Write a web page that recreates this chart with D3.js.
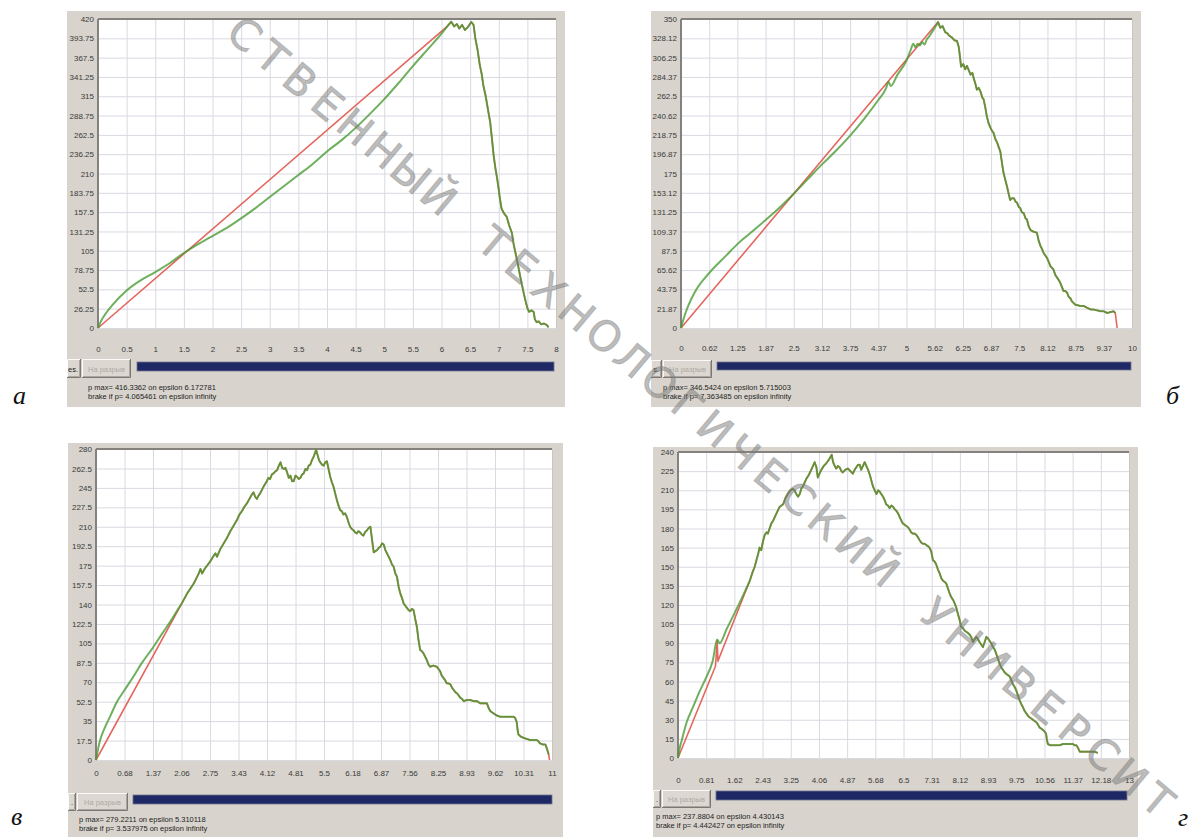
<!DOCTYPE html>
<html>
<head>
<meta charset="utf-8">
<script src="https://cdn.jsdelivr.net/npm/d3@7"></script>
<style>
  body { margin: 0; background: #fff; }
  svg { display: block; }
</style>
</head>
<body>
<svg id="fig" width="1196" height="837"></svg>
<script>
// ---------- tick labels ----------
const xLabelsA = ["0","0.5","1","1.5","2","2.5","3","3.5","4","4.5","5","5.5","6","6.5","7","7.5","8"];
const yLabelsA = ["0","26.25","52.5","78.75","105","131.25","157.5","183.75","210","236.25","262.5","288.75","315","341.25","367.5","393.75","420"];
const xLabelsB = ["0","0.62","1.25","1.87","2.5","3.12","3.75","4.37","5","5.62","6.25","6.87","7.5","8.12","8.75","9.37","10"];
const yLabelsB = ["0","21.87","43.75","65.62","87.5","109.37","131.25","153.12","175","196.87","218.75","240.62","262.5","284.37","306.25","328.12","350"];
const xLabelsC = ["0","0.68","1.37","2.06","2.75","3.43","4.12","4.81","5.5","6.18","6.87","7.56","8.25","8.93","9.62","10.31","11"];
const yLabelsC = ["0","17.5","35","52.5","70","87.5","105","122.5","140","157.5","175","192.5","210","227.5","245","262.5","280"];
const xLabelsD = ["0","0.81","1.62","2.43","3.25","4.06","4.87","5.68","6.5","7.31","8.12","8.93","9.75","10.56","11.37","12.18","13"];
const yLabelsD = ["0","15","30","45","60","75","90","105","120","135","150","165","180","195","210","225","240"];

// axis ranges [epsilon max, p max]
const rangeA = [8, 420];
const rangeB = [10, 350];
const rangeC = [11, 280];
const rangeD = [13, 240];

// ---------- panel а ----------
const redRiseA = [[0,0],[6.1,410]];
const greenRiseA = [[0,0],[0.05,9],[0.12,18],[0.25,31],[0.5,51],[0.75,65],[1.0,76],[1.25,88],[1.5,102],[1.75,114],[2.0,125],[2.25,136],[2.5,149],[2.75,163],[3.0,178],[3.25,193],[3.5,208],[3.75,223],[4.0,240],[4.25,255],[4.5,272],[4.75,291],[5.0,311],[5.25,333],[5.5,356],[5.75,378],[6.0,400],[6.1,410]];
const tailA = [[6.1,410],[6.17,416.3],[6.22,410],[6.27,413],[6.31,407],[6.36,412],[6.41,405],[6.46,409],[6.52,416],[6.56,412],[6.59,394],[6.63,378],[6.67,357],[6.70,346],[6.73,330],[6.77,316],[6.82,293],[6.85,280],[6.88,258],[6.91,235],[6.94,218],[6.97,204],[7.0,188],[7.02,176],[7.05,162],[7.09,156],[7.14,151],[7.18,140],[7.23,129],[7.26,114],[7.29,103],[7.32,92],[7.35,80],[7.38,68],[7.41,57],[7.44,46],[7.47,36],[7.50,27],[7.53,22],[7.57,24],[7.61,22],[7.63,12],[7.66,8],[7.70,9],[7.74,5],[7.79,6],[7.84,4],[7.87,1]];
const redEndA = [];

// ---------- panel б ----------
const redRiseB = [[0,0],[5.70,346.5]];
const greenRiseB = [[0,0],[0.05,9],[0.1,17],[0.3,40],[0.62,62],[1.0,82],[1.25,95],[1.5,106],[1.87,122],[2.2,137],[2.5,152],[2.8,168],[3.12,185],[3.44,201],[3.75,218],[4.06,237],[4.37,258],[4.55,272],[4.6,279],[4.65,274],[4.8,287],[5.0,303],[5.1,316],[5.15,322],[5.2,318],[5.25,322],[5.3,320],[5.35,324],[5.4,321],[5.45,327],[5.5,330],[5.55,334],[5.6,338],[5.65,342],[5.70,346.5]];
const tailB = [[5.70,346.5],[5.75,340],[5.8,342],[5.86,335],[5.9,334],[5.95,331],[6.01,329],[6.06,326],[6.12,325],[6.16,318],[6.19,305],[6.21,296],[6.26,299],[6.30,293],[6.34,297],[6.38,292],[6.42,287],[6.46,289],[6.49,283],[6.53,276],[6.56,270],[6.6,272],[6.64,268],[6.68,261],[6.71,259],[6.75,249],[6.78,240],[6.82,232],[6.86,227],[6.9,223],[6.93,221],[6.97,214],[7.01,210],[7.05,204],[7.08,200],[7.12,186],[7.15,176],[7.19,168],[7.23,160],[7.27,151],[7.3,145],[7.34,147],[7.38,147],[7.42,143],[7.45,142],[7.49,137],[7.52,136],[7.56,131],[7.6,130],[7.64,124],[7.67,123],[7.71,115],[7.75,111],[7.82,109],[7.89,108],[7.93,99],[7.97,93],[8.0,90],[8.04,85],[8.08,82],[8.12,79],[8.16,74],[8.19,70],[8.23,68],[8.26,66],[8.3,60],[8.34,57],[8.38,54],[8.41,51],[8.45,46],[8.48,42],[8.52,42],[8.56,40],[8.6,35],[8.63,34],[8.67,30],[8.71,28],[8.75,26],[8.78,26],[8.85,25],[8.93,25],[9.0,23],[9.08,21],[9.15,21],[9.22,20],[9.3,19],[9.37,19],[9.45,17],[9.52,18],[9.59,19],[9.63,17]];
const redEndB = [[9.67,0]];

// ---------- panel в ----------
const redRiseC = [[0,0],[2.07,141]];
const greenRiseC = [[0,0],[0.05,10],[0.1,18],[0.2,28],[0.35,40],[0.5,52],[0.69,63],[0.9,75],[1.1,87],[1.37,101],[1.6,114],[1.8,125],[2.0,137],[2.07,141]];
const tailC = [[2.07,141],[2.2,150],[2.36,159],[2.48,168],[2.52,172],[2.56,168],[2.62,172],[2.68,175],[2.76,179],[2.84,184],[2.88,186],[2.92,183],[3.0,190],[3.08,195],[3.16,200],[3.24,206],[3.32,211],[3.40,216],[3.46,221],[3.52,224],[3.58,228],[3.64,231],[3.70,235],[3.76,239],[3.80,241],[3.84,237],[3.88,235],[3.92,238],[3.96,240],[4.04,246],[4.12,251],[4.16,254],[4.20,253],[4.24,257],[4.28,258],[4.33,260],[4.37,261],[4.41,265],[4.45,268],[4.49,263],[4.53,262],[4.57,263],[4.61,259],[4.65,254],[4.69,256],[4.73,251],[4.77,251],[4.81,256],[4.85,255],[4.89,253],[4.93,254],[4.97,257],[5.01,258],[5.05,262],[5.09,261],[5.13,265],[5.17,266],[5.21,270],[5.25,273],[5.31,279.2],[5.35,274],[5.38,270],[5.41,268],[5.45,266],[5.49,265],[5.53,268],[5.57,269],[5.61,262],[5.65,255],[5.69,250],[5.73,246],[5.77,240],[5.81,234],[5.85,229],[5.89,225],[5.93,224],[5.97,221],[6.01,222],[6.05,219],[6.09,214],[6.13,210],[6.17,208],[6.21,207],[6.25,205],[6.29,204],[6.33,206],[6.37,205],[6.41,203],[6.45,202],[6.49,205],[6.54,207],[6.58,209],[6.62,210],[6.66,198],[6.70,187],[6.74,188],[6.78,189],[6.82,191],[6.86,192],[6.90,195],[6.94,194],[6.98,189],[7.02,186],[7.06,183],[7.10,180],[7.14,176],[7.18,174],[7.22,168],[7.26,165],[7.30,156],[7.34,150],[7.38,146],[7.42,141],[7.46,139],[7.50,137],[7.54,135],[7.58,134],[7.62,136],[7.66,135],[7.70,127],[7.74,120],[7.78,108],[7.82,99],[7.86,98],[7.90,96],[7.94,93],[7.98,90],[8.02,86],[8.06,84],[8.14,85],[8.22,84],[8.26,82],[8.30,80],[8.34,76],[8.38,74],[8.42,72],[8.46,69],[8.50,69],[8.55,68],[8.59,65],[8.63,63],[8.67,61],[8.71,60],[8.75,58],[8.79,56],[8.83,55],[8.87,53],[8.95,54],[9.03,54],[9.11,53],[9.19,53],[9.27,51],[9.35,51],[9.43,51],[9.47,47],[9.51,44],[9.55,43],[9.59,42],[9.63,41],[9.67,40],[9.75,39],[9.83,39],[9.95,39],[10.07,39],[10.11,38],[10.15,34],[10.17,27],[10.19,23],[10.25,21],[10.31,20],[10.39,19],[10.47,18],[10.55,18],[10.63,18],[10.67,17],[10.71,15],[10.78,14],[10.84,14],[10.88,10],[10.92,5]];
const redEndC = [[10.94,0]];

// ---------- panel г ----------
const redRiseD = [[0,0],[1.08,72],[1.13,92],[1.15,76],[1.5,100],[2.07,139]];
const greenRiseD = [[0,0],[0.05,8],[0.1,13],[0.25,28],[0.45,41],[0.62,52],[0.81,63],[1.0,76],[1.13,93],[1.2,90],[1.4,101],[1.62,113],[1.85,126],[2.07,139]];
const tailD = [[2.07,139],[2.14,145],[2.21,150],[2.27,156],[2.31,160],[2.35,165],[2.40,163],[2.45,170],[2.50,175],[2.55,177],[2.59,176],[2.64,180],[2.69,184],[2.74,186],[2.79,189],[2.86,193],[2.93,197],[2.98,198],[3.03,199],[3.10,204],[3.17,207],[3.24,210],[3.31,211],[3.36,210],[3.41,207],[3.46,205],[3.51,207],[3.55,211],[3.60,213],[3.65,216],[3.70,219],[3.77,222],[3.84,226],[3.89,229],[3.94,232],[3.99,228],[4.03,220],[4.08,223],[4.13,226],[4.20,229],[4.27,231],[4.35,234],[4.43,237.9],[4.47,232],[4.52,229],[4.56,227],[4.61,229],[4.66,228],[4.71,225],[4.75,224],[4.82,226],[4.90,227],[4.97,225],[5.04,223],[5.09,226],[5.14,228],[5.19,230],[5.24,230],[5.28,226],[5.33,229],[5.38,232],[5.43,229],[5.48,226],[5.53,222],[5.57,218],[5.62,213],[5.67,210],[5.72,207],[5.77,210],[5.81,209],[5.86,207],[5.91,205],[5.96,202],[6.00,199],[6.05,198],[6.10,196],[6.15,198],[6.20,197],[6.25,195],[6.29,194],[6.34,192],[6.39,189],[6.44,186],[6.48,184],[6.53,183],[6.58,182],[6.63,181],[6.68,179],[6.72,177],[6.77,176],[6.82,176],[6.87,175],[6.92,173],[6.96,171],[7.01,169],[7.06,168],[7.11,168],[7.16,167],[7.21,166],[7.25,165],[7.30,162],[7.35,155],[7.40,154],[7.44,152],[7.49,148],[7.54,145],[7.59,141],[7.64,139],[7.69,138],[7.73,137],[7.78,133],[7.83,129],[7.88,126],[7.93,124],[7.98,121],[8.02,118],[8.07,113],[8.12,108],[8.16,103],[8.21,102],[8.26,100],[8.31,99],[8.36,98],[8.40,97],[8.45,95],[8.50,91],[8.55,93],[8.60,95],[8.65,93],[8.69,91],[8.74,89],[8.79,87],[8.84,91],[8.89,95],[8.93,94],[8.98,92],[9.03,90],[9.08,87],[9.13,85],[9.17,82],[9.22,78],[9.27,74],[9.32,71],[9.37,69],[9.42,67],[9.46,66],[9.51,65],[9.56,64],[9.61,61],[9.65,58],[9.70,56],[9.75,53],[9.80,49],[9.85,45],[9.90,42],[9.94,40],[9.99,37],[10.04,35],[10.09,33],[10.13,32],[10.18,31],[10.23,30],[10.28,29],[10.33,28],[10.38,26],[10.42,24],[10.47,23],[10.52,22],[10.56,21],[10.61,19],[10.63,15],[10.66,11],[10.73,10],[10.81,10],[10.9,10],[11.0,10],[11.1,11],[11.19,11],[11.28,11],[11.38,11],[11.43,10],[11.48,10],[11.53,8],[11.58,5],[11.68,5],[11.77,5],[11.9,5],[12.0,5],[12.1,4]];
const redEndD = [];

// ---------- status lines under each chart ----------
const statusA = ["p max= 416.3362 on epsilon  6.172781", "brake if p= 4.065461 on epsilon infinity"];
const statusB = ["p max= 346.5424 on epsilon  5.715003", "brake if p= 7.363485 on epsilon infinity"];
const statusC = ["p max= 279.2211 on epsilon  5.310118", "brake if p= 3.537975 on epsilon infinity"];
const statusD = ["p max= 237.8804 on epsilon  4.430143", "brake if p= 4.442427 on epsilon infinity"];

const panelLetters = ["а", "б", "в", "г"];
const watermark = "СТВЕННЫЙ ТЕХНОЛОГИЧЕСКИЙ УНИВЕРСИТ";

// ---------- layout of the four windows ----------
const panels = [
  { range: rangeA, xl: xLabelsA, yl: yLabelsA, redRise: redRiseA, greenRise: greenRiseA, tail: tailA, redEnd: redEndA, status: statusA,
    frame: [67, 11, 565, 407], plot: [98, 19, 556, 328], xGap: 21, btn1: [67, 359, 81], btn2: [82, 359, 131], btnH: 19, btn1Text: "es.",
    bar: [137, 362, 554, 371], textX: 88, textY: 390, letter: [13, 404] },
  { range: rangeB, xl: xLabelsB, yl: yLabelsB, redRise: redRiseB, greenRise: greenRiseB, tail: tailB, redEnd: redEndB, status: statusB,
    frame: [651, 11, 1141, 407], plot: [681, 19, 1132, 328], xGap: 20, btn1: [651, 360, 662], btn2: [663, 360, 712], btnH: 18, btn1Text: "s.",
    bar: [717, 362, 1131, 370], textX: 663, textY: 390, letter: [1166, 404] },
  { range: rangeC, xl: xLabelsC, yl: yLabelsC, redRise: redRiseC, greenRise: greenRiseC, tail: tailC, redEnd: redEndC, status: statusC,
    frame: [68, 443, 563, 837], plot: [96, 449, 552, 760], xGap: 13, btn1: [68, 793, 76], btn2: [77, 793, 128], btnH: 18, btn1Text: ".",
    bar: [133, 795, 552, 804], textX: 79, textY: 822, letter: [11, 825] },
  { range: rangeD, xl: xLabelsD, yl: yLabelsD, redRise: redRiseD, greenRise: greenRiseD, tail: tailD, redEnd: redEndD, status: statusD,
    frame: [653, 447, 1138, 837], plot: [678, 452, 1129, 758], xGap: 22, btn1: [653, 790, 661], btn2: [662, 790, 711], btnH: 18, btn1Text: ".",
    bar: [716, 791, 1127, 800], textX: 656, textY: 819, letter: [1178, 826] }
];

const svg = d3.select("#fig");
const UI_FONT = "'Liberation Sans', Arial, sans-serif";

function raisedButton(g, x0, y0, x1, h) {
  const b = g.append("g");
  b.append("rect").attr("x", x0).attr("y", y0).attr("width", x1 - x0).attr("height", h).attr("fill", "#dcd8d1");
  b.append("path").attr("d", `M${x0 + 0.5},${y0 + h}V${y0 + 0.5}H${x1}`).attr("fill", "none").attr("stroke", "#fbfaf8");
  b.append("path").attr("d", `M${x0},${y0 + h - 0.5}H${x1 - 0.5}V${y0}`).attr("fill", "none").attr("stroke", "#7b7873");
  b.append("path").attr("d", `M${x0 + 1},${y0 + h - 1.5}H${x1 - 1.5}V${y0 + 1}`).attr("fill", "none").attr("stroke", "#aaa69f");
  return b;
}

panels.forEach((p, k) => {
  const [fx0, fy0, fx1, fy1] = p.frame;
  const [px0, py0, px1, py1] = p.plot;
  const g = svg.append("g");

  // window background and plotting area
  g.append("rect").attr("x", fx0).attr("y", fy0).attr("width", fx1 - fx0).attr("height", fy1 - fy0).attr("fill", "#d8d4cd");
  g.append("rect").attr("x", px0).attr("y", py0).attr("width", px1 - px0).attr("height", py1 - py0).attr("fill", "#ffffff");

  const x = d3.scaleLinear().domain([0, p.range[0]]).range([px0, px1]);
  const y = d3.scaleLinear().domain([0, p.range[1]]).range([py1, py0]);
  const xt = d3.range(17).map(i => i * p.range[0] / 16);
  const yt = d3.range(17).map(i => i * p.range[1] / 16);

  // grid
  g.append("g").attr("transform", `translate(0,${py1})`)
    .call(d3.axisBottom(x).tickValues(xt).tickSize(-(py1 - py0)).tickFormat(""))
    .call(s => { s.select(".domain").remove(); s.selectAll("line").attr("stroke", "#d9d9e2"); });
  g.append("g").attr("transform", `translate(${px0},0)`)
    .call(d3.axisLeft(y).tickValues(yt).tickSize(-(px1 - px0)).tickFormat(""))
    .call(s => { s.select(".domain").remove(); s.selectAll("line").attr("stroke", "#d9d9e2"); });

  // plot borders
  g.append("line").attr("x1", px0).attr("x2", px1).attr("y1", py0).attr("y2", py0).attr("stroke", "#85827d").attr("stroke-width", 2);
  g.append("line").attr("x1", px0).attr("x2", px0).attr("y1", py0).attr("y2", py1).attr("stroke", "#85827d").attr("stroke-width", 2);
  g.append("line").attr("x1", px1 + 0.5).attr("x2", px1 + 0.5).attr("y1", py0).attr("y2", py1).attr("stroke", "#c9c6c0");

  // tick labels
  g.append("g").attr("transform", `translate(${px0},0)`)
    .call(d3.axisLeft(y).tickValues(yt).tickSize(0).tickPadding(4).tickFormat((d, i) => p.yl[i]))
    .call(s => {
      s.select(".domain").remove();
      s.selectAll("text").attr("font-family", UI_FONT).attr("font-size", 8).attr("fill", "#3a3a3a");
    });
  g.append("g").attr("transform", `translate(0,${py1})`)
    .call(d3.axisBottom(x).tickValues(xt).tickSize(0).tickPadding(p.xGap - 3).tickFormat((d, i) => p.xl[i]))
    .call(s => {
      s.select(".domain").remove();
      s.selectAll("text").attr("font-family", UI_FONT).attr("font-size", 8).attr("fill", "#3a3a3a");
    });

  // curves: straight segments for the red trace and the shared jagged tail,
  // a smooth curve for the rising part of the green trace
  const straight = d3.line().x(d => x(d[0])).y(d => y(d[1]));
  const smooth = d3.line().x(d => x(d[0])).y(d => y(d[1])).curve(d3.curveMonotoneX);
  const tailPath = straight(p.tail);
  g.append("path").attr("d", straight(p.redRise.concat(p.tail.slice(1), p.redEnd))).attr("fill", "none")
    .attr("stroke", "#e4675f").attr("stroke-width", 1.6).attr("stroke-linejoin", "round");
  g.append("path").attr("d", smooth(p.greenRise) + tailPath.replace(/^M/, "L")).attr("fill", "none")
    .attr("stroke", "#459a30").attr("stroke-width", 2).attr("stroke-opacity", 0.78).attr("stroke-linejoin", "round");

  // buttons and progress bar
  raisedButton(g, p.btn1[0], p.btn1[1], p.btn1[2], p.btnH).append("text")
    .attr("x", p.btn1[2] - 3).attr("y", p.btn1[1] + p.btnH / 2 + 3).attr("text-anchor", "end")
    .attr("font-family", UI_FONT).attr("font-size", 7.5).attr("fill", "#222").text(p.btn1Text);
  raisedButton(g, p.btn2[0], p.btn2[1], p.btn2[2], p.btnH).append("text")
    .attr("x", (p.btn2[0] + p.btn2[2]) / 2).attr("y", p.btn2[1] + p.btnH / 2 + 3).attr("text-anchor", "middle")
    .attr("font-family", UI_FONT).attr("font-size", 7.5).attr("fill", "#aeaaa3").text("На разрыв");
  g.append("rect").attr("x", p.bar[0]).attr("y", p.bar[1]).attr("width", p.bar[2] - p.bar[0]).attr("height", p.bar[3] - p.bar[1])
    .attr("fill", "#1d2864").attr("stroke", "#6e7390").attr("stroke-width", 0.8);

  // status text
  p.status.forEach((t, i) => {
    g.append("text").attr("x", p.textX).attr("y", p.textY + i * 9)
      .attr("font-family", UI_FONT).attr("font-size", 7.5).attr("fill", "#1e1e1e").text(t);
  });

  // panel letter
  svg.append("text").attr("x", p.letter[0]).attr("y", p.letter[1])
    .attr("font-family", "'Liberation Serif', 'DejaVu Serif', serif").attr("font-style", "italic")
    .attr("font-size", 26).attr("fill", "#111").text(panelLetters[k]);
});

// diagonal watermark across the page, one glyph per step along a straight line
const wmStart = [245, 34], wmEnd = [1158, 800];
const chars = Array.from(watermark);
const wmAngle = Math.atan2(wmEnd[1] - wmStart[1], wmEnd[0] - wmStart[0]) * 180 / Math.PI;
svg.append("g").attr("class", "watermark")
  .selectAll("text").data(chars.map((c, i) => ({ c, i })).filter(d => d.c !== " "))
  .join("text")
  .attr("transform", d => {
    const t = d.i / (chars.length - 1);
    const cx = wmStart[0] + t * (wmEnd[0] - wmStart[0]);
    const cy = wmStart[1] + t * (wmEnd[1] - wmStart[1]);
    return `translate(${cx},${cy}) rotate(${wmAngle})`;
  })
  .attr("text-anchor", "middle").attr("dy", "0.36em")
  .attr("font-family", "'DejaVu Sans', sans-serif").attr("font-size", 42)
  .attr("fill", "#7a7a7a").attr("fill-opacity", 0.5)
  .attr("stroke", "#7a7a7a").attr("stroke-opacity", 0.35).attr("stroke-width", 1)
  .text(d => d.c);
</script>
</body>
</html>
